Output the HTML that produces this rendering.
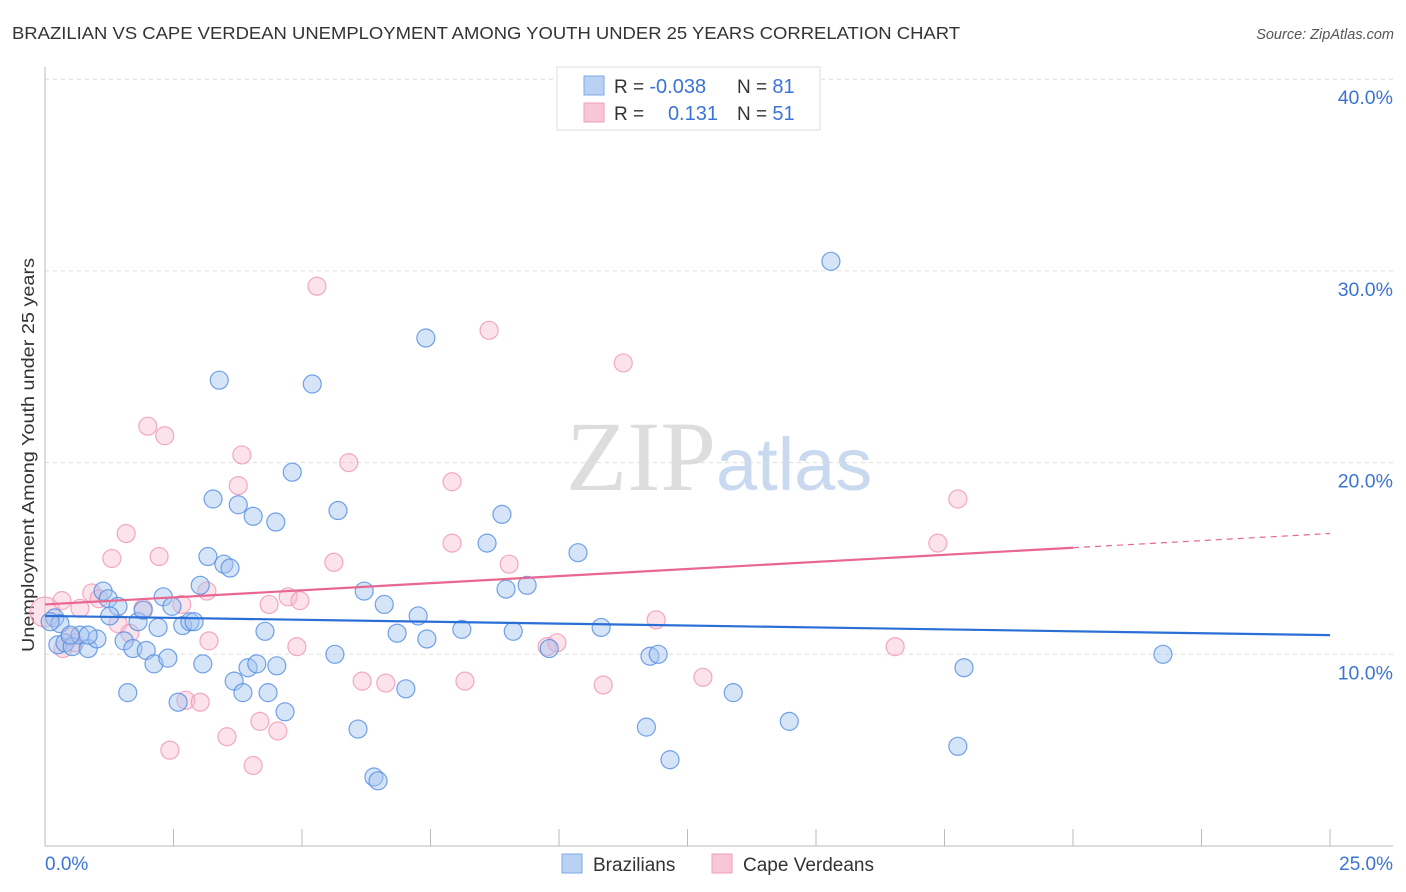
<!DOCTYPE html>
<html><head><meta charset="utf-8"><style>
body{margin:0;background:#fff;font-family:"Liberation Sans",sans-serif}
svg{display:block}
</style></head><body>
<svg id="c" width="1406" height="892">
<text x="12" y="39" font-size="17.5" fill="#333" textLength="948" lengthAdjust="spacingAndGlyphs">BRAZILIAN VS CAPE VERDEAN UNEMPLOYMENT AMONG YOUTH UNDER 25 YEARS CORRELATION CHART</text>
<text x="1394" y="39" font-size="14.5" fill="#555" font-style="italic" text-anchor="end">Source: ZipAtlas.com</text>
<text x="716" y="490" font-size="100" fill="#ddd" text-anchor="end" font-family="Liberation Serif,serif">ZIP</text>
<text x="716" y="490" font-size="74" fill="#c9d9ef">atlas</text>
<text transform="translate(34,455) rotate(-90)" font-size="17.5" fill="#333" text-anchor="middle" textLength="394" lengthAdjust="spacingAndGlyphs">Unemployment Among Youth under 25 years</text>
<g id="grid"></g><g id="pts"></g><g id="lines"></g>
<g>
<rect x="557" y="67" width="263" height="63" fill="#fff" stroke="#ddd"/>
<rect x="584" y="76" width="20" height="19" fill="#b9d2f3" stroke="#7fa9e6"/>
<rect x="584" y="103" width="20" height="19" fill="#f9c6d6" stroke="#ef9fb9"/>
<text x="614" y="93" font-size="19" fill="#333">R = <tspan fill="#3b74d6" font-size="20">-0.038</tspan></text>
<text x="737" y="93" font-size="19" fill="#333">N = <tspan fill="#3b74d6" font-size="20">81</tspan></text>
<text x="614" y="120" font-size="19" fill="#333">R = </text>
<text x="718" y="120" font-size="20" fill="#3b74d6" text-anchor="end">0.131</text>
<text x="737" y="120" font-size="19" fill="#333">N = <tspan fill="#3b74d6" font-size="20">51</tspan></text>
</g>
<g>
<rect x="562" y="854" width="20" height="19" fill="#b9d2f3" stroke="#7fa9e6"/>
<text x="593" y="871" font-size="19" fill="#333">Brazilians</text>
<rect x="712" y="854" width="20" height="19" fill="#f9c6d6" stroke="#ef9fb9"/>
<text x="743" y="871" font-size="19" fill="#333">Cape Verdeans</text>
</g>
</svg>
<script>
const yTicks=[10,20,30,40];
const xTickLabels=["0.0%","25.0%"];
const blueX=[0.25,0.19,0.39,0.53,0.68,0.84,1.01,1.13,1.23,1.42,1.54,1.61,1.71,1.81,1.97,1.91,2.12,2.2,2.3,2.39,2.47,2.59,2.68,2.82,2.9,3.02,3.07,3.17,3.27,3.39,3.48,3.6,3.68,3.76,3.85,3.95,4.05,4.12,4.28,4.34,4.49,4.51,4.67,4.81,5.2,5.64,5.7,6.09,6.21,6.4,6.48,6.6,6.85,7.02,7.26,7.41,7.43,8.11,8.6,8.89,8.97,9.11,9.38,9.81,10.37,10.82,11.7,11.77,11.93,12.16,13.39,14.48,15.29,17.76,17.88,21.75,0.29,0.49,0.1,1.26,0.84];
const blueY=[10.5,11.9,10.6,10.4,11.0,10.3,10.8,13.3,12.9,12.5,10.7,8.0,10.3,11.7,10.2,12.3,9.5,11.4,13.0,9.8,12.5,7.5,11.5,11.7,11.7,13.6,9.5,15.1,18.1,24.3,14.7,14.5,8.6,17.8,8.0,9.3,17.2,9.5,11.2,8.0,16.9,9.4,7.0,19.5,24.1,10.0,17.5,6.1,13.3,3.6,3.4,12.6,11.1,8.2,12.0,26.5,10.8,11.3,15.8,17.3,13.4,11.2,13.6,10.3,15.3,11.4,6.2,9.9,10.0,4.5,8.0,6.5,30.5,5.2,9.3,10.0,11.6,11.0,11.7,12.0,11.0];
const pinkX=[0.0,0.35,0.49,0.68,0.91,1.05,1.3,1.42,1.58,1.65,1.91,2.0,2.22,2.33,2.43,2.66,2.74,3.02,3.15,3.19,3.54,3.76,3.83,4.05,4.18,4.36,4.53,4.73,4.9,4.96,5.29,5.62,5.91,6.17,6.63,7.92,8.17,7.92,8.64,9.03,9.77,9.96,10.86,11.25,11.89,12.8,16.54,17.37,17.76,0.33,0.58];
const pinkY=[12.2,10.3,10.9,12.4,13.2,12.9,15.0,11.6,16.3,11.1,12.4,21.9,15.1,21.4,5.0,12.6,7.6,7.5,13.3,10.7,5.7,18.8,20.4,4.2,6.5,12.6,6.0,13.0,10.4,12.8,29.2,14.8,20.0,8.6,8.5,15.8,8.6,19.0,26.9,14.7,10.4,10.6,8.4,25.2,11.8,8.8,10.4,15.8,18.1,12.8,10.6];
const blueLine=[-0.038,12.0,11.0];
const pinkLine=[0.131,12.6,16.3];
const NS="http://www.w3.org/2000/svg";
const X0=45,X1=1330,Y0=846,PY=19.17;
function sx(v){return X0+(X1-X0)*v/25;}
function sy(v){return Y0-v*PY;}
function mk(t,a,p){const e=document.createElementNS(NS,t);for(const k in a)e.setAttribute(k,a[k]);p.appendChild(e);return e;}
const grid=document.getElementById('grid');
yTicks.forEach(t=>{
 const l=mk('line',{x1:X0,x2:1393,y1:sy(t),y2:sy(t),stroke:'#ddd','stroke-dasharray':'4,4'},grid);
 
 
 const tx=mk('text',{x:1393,y:sy(t)+25,'font-size':19.5,fill:'#3b74d6','text-anchor':'end'},grid);
 tx.textContent=t.toFixed(1)+'%';
 
 
});
mk('line',{x1:X0,x2:X0,y1:67,y2:Y0,stroke:'#bbb'},grid);
mk('line',{x1:X0,x2:1393,y1:Y0,y2:Y0,stroke:'#bbb'},grid);
for(let i=1;i<=10;i++){mk('line',{x1:sx(i*2.5),x2:sx(i*2.5),y1:Y0,y2:Y0-17,stroke:'#bbb'},grid);}
const xl=mk('text',{x:45,y:870,'font-size':19,fill:'#3b74d6'},grid);xl.textContent=xTickLabels[0];


const xr=mk('text',{x:1393,y:870,'font-size':19,fill:'#3b74d6','text-anchor':'end'},grid);xr.textContent=xTickLabels[1];


const pts=document.getElementById('pts');
pinkX.forEach((x,i)=>{const c=mk('circle',{cx:sx(x),cy:sy(pinkY[i]),r:i==0?15:9,fill:'rgba(247,182,203,0.4)',stroke:'rgba(238,150,180,0.8)','stroke-width':1.2},pts);
 
 });
blueX.forEach((x,i)=>{const c=mk('circle',{cx:sx(x),cy:sy(blueY[i]),r:9,fill:'rgba(165,196,240,0.45)',stroke:'rgba(80,140,225,0.8)','stroke-width':1.2},pts);
 
 });
const lines=document.getElementById('lines');
const bl=mk('line',{x1:sx(0),y1:sy(blueLine[1]),x2:sx(25),y2:sy(blueLine[2]),stroke:'#2a6fd6','stroke-width':2.2},lines);


const pm=pinkLine[1]+(pinkLine[2]-pinkLine[1])*0.8;
const pl=mk('line',{x1:sx(0),y1:sy(pinkLine[1]),x2:sx(20),y2:sy(pm),stroke:'#e8668f','stroke-width':2.2},lines);


const pd=mk('line',{x1:sx(20),y1:sy(pm),x2:sx(25),y2:sy(pinkLine[2]),stroke:'#e8668f','stroke-width':1.2,'stroke-dasharray':'6,5'},lines);


</script>
</body></html>
